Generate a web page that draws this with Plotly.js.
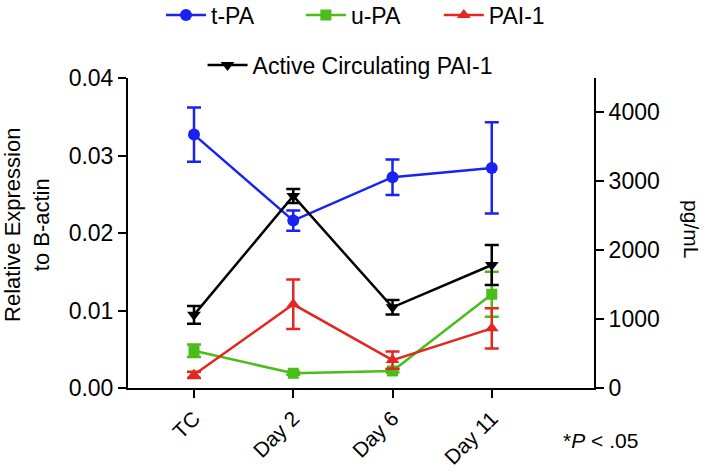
<!DOCTYPE html>
<html>
<head>
<meta charset="utf-8">
<script src="https://cdn.plot.ly/plotly-3.0.1.min.js"></script>
<style>html,body{margin:0;padding:0;background:#fff;}#chart{width:709px;height:472px;}</style>
</head>
<body>
<div id="chart"></div>
<script>
const categories = ["TC", "Day 2", "Day 6", "Day 11"];
const tPA = [0.0327, 0.0216, 0.0272, 0.0284];
const tPA_err = [0.0035, 0.0013, 0.0023, 0.0059];
const uPA = [0.0048, 0.0019, 0.0022, 0.0121];
const uPA_err = [0.0008, 0.0002, 0.0002, 0.0029];
const PAI1 = [0.0017, 0.0108, 0.0036, 0.0077];
const PAI1_err = [0.0004, 0.0032, 0.0011, 0.0026];
const activePAI1 = [1060, 2783, 1169, 1783];
const activePAI1_err = [130, 100, 105, 290];
const leftTicks = [0, 0.01, 0.02, 0.03, 0.04];
const leftTickText = ["0.00", "0.01", "0.02", "0.03", "0.04"];
const rightTicks = [0, 1000, 2000, 3000, 4000];

const FONT = "Liberation Sans, Arial, Helvetica, sans-serif";
const xs = categories.map((c, i) => i);

function series(name, y, err, color, symbol, axis, legend, msize) {
  return {
    type: "scatter", mode: "lines+markers", name: name,
    x: xs, y: y, yaxis: axis, legend: legend,
    line: {color: color, width: 2.5},
    marker: {color: color, symbol: symbol, size: msize},
    error_y: {type: "data", array: err, visible: true, color: color, thickness: 2.5, width: 7}
  };
}

const data = [
  series("u-PA", uPA, uPA_err, "#49bd1a", "square", "y", "legend2", 11),
  series("PAI-1", PAI1, PAI1_err, "#e3261f", "triangle-up", "y", "legend3", 12),
  series("t-PA", tPA, tPA_err, "#1a22f2", "circle", "y", "legend", 12),
  series("Active Circulating PAI-1", activePAI1, activePAI1_err, "#000000", "triangle-down", "y2", "legend4", 12)
];

function leg(x, y) {
  return {orientation: "h", x: x, xanchor: "left", y: y, yanchor: "middle",
          font: {size: 23}, bgcolor: "rgba(0,0,0,0)", itemwidth: 40};
}

const layout = {
  width: 709, height: 472,
  margin: {l: 128, r: 115, t: 78, b: 84, autoexpand: false},
  paper_bgcolor: "#fff", plot_bgcolor: "#fff",
  font: {family: FONT, size: 22, color: "#000"},
  showlegend: true,
  xaxis: {
    range: [-0.665, 4.03], tickvals: xs, ticktext: categories, tickangle: -45,
    showgrid: false, zeroline: false, showline: true, linecolor: "#000", linewidth: 2,
    ticks: "outside", ticklen: 8, tickwidth: 2, tickcolor: "#000",
    tickfont: {size: 21}
  },
  yaxis: {
    range: [0, 0.04], tickvals: leftTicks, ticktext: leftTickText,
    showgrid: false, zeroline: false, showline: true, linecolor: "#000", linewidth: 2,
    ticks: "outside", ticklen: 8, tickwidth: 2, tickcolor: "#000",
    tickfont: {size: 23}
  },
  yaxis2: {
    range: [0, 4493], tickvals: rightTicks, overlaying: "y", side: "right",
    showgrid: false, zeroline: false, showline: true, linecolor: "#000", linewidth: 2,
    ticks: "outside", ticklen: 8, tickwidth: 2, tickcolor: "#000",
    tickfont: {size: 23}
  },
  legend: leg(0.0708, 1.203),
  legend2: leg(0.371, 1.203),
  legend3: leg(0.667, 1.203),
  legend4: leg(0.16, 1.042),
  annotations: [
    {text: "Relative Expression<br>to B-actin", xref: "paper", yref: "paper",
     x: -0.2167, y: 0.526, xanchor: "center", yanchor: "middle", textangle: -90,
     showarrow: false, font: {size: 22}},
    {text: "pg/mL", xref: "paper", yref: "paper",
     x: 1.208, y: 0.513, xanchor: "center", yanchor: "middle", textangle: 90,
     showarrow: false, font: {size: 21}},
    {text: "*<i>P</i> &lt; .05", xref: "paper", yref: "paper",
     x: 0.93, y: -0.168, xanchor: "left", yanchor: "middle",
     showarrow: false, font: {size: 21}}
  ]
};

Plotly.newPlot("chart", data, layout, {displayModeBar: false, staticPlot: true});
</script>
</body>
</html>
